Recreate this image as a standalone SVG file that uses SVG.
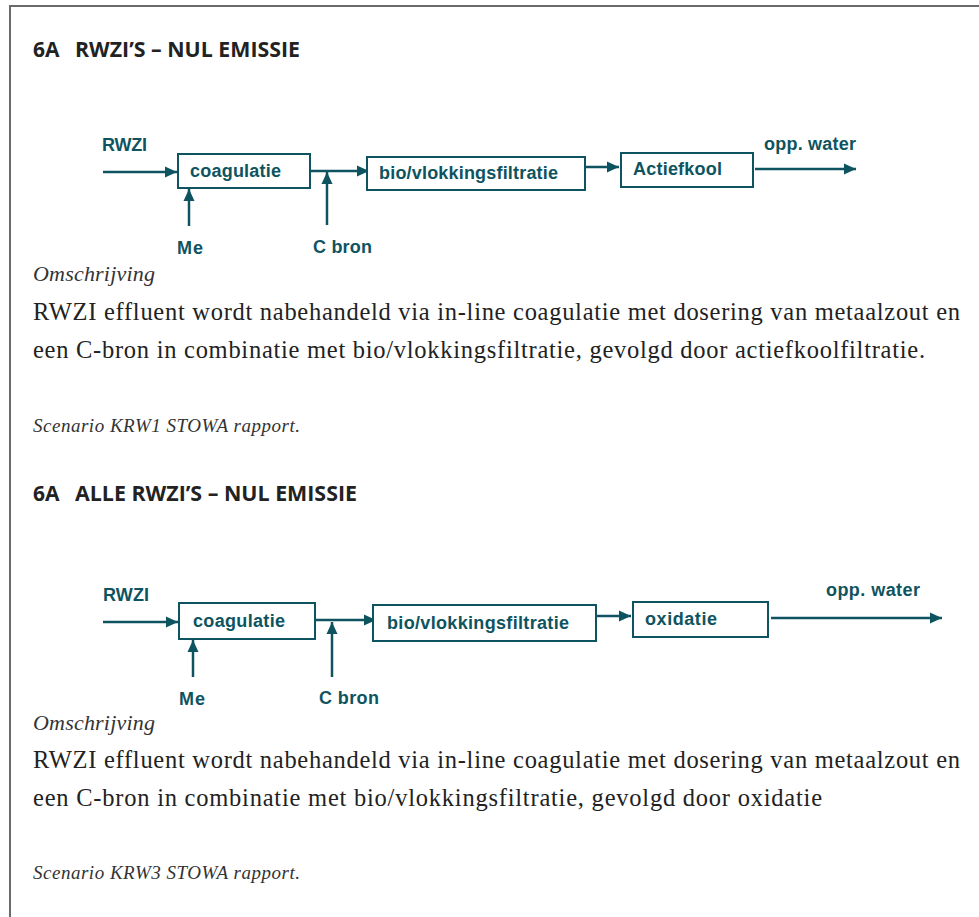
<svg xmlns="http://www.w3.org/2000/svg" width="979" height="917" viewBox="0 0 979 917">
  <style>
    .frame { fill: none; stroke: #6a6a6a; stroke-width: 2; }
    .head { font-family: "Open Sans", "DejaVu Sans", sans-serif; font-weight: 700; font-size: 21px; fill: #222; }
    .lbl { font-family: "Liberation Sans", Arial, sans-serif; font-weight: 700; font-size: 18px; fill: #0e5460; }
    .box { fill: #fff; stroke: #0e5460; stroke-width: 2; }
    .flow { stroke: #0e5460; stroke-width: 2.5; fill: none; marker-end: url(#arr); }
    .ital { font-family: "Liberation Serif", "Times New Roman", serif; font-style: italic; fill: #333; }
    .body { font-family: "Liberation Serif", "Times New Roman", serif; font-size: 24.5px; fill: #222; }
  </style>
  <defs>
    <marker id="arr" markerUnits="userSpaceOnUse" markerWidth="13" markerHeight="12" refX="12" refY="6" orient="auto">
      <path d="M0,0.5 L12,6 L0,11.5 Z" fill="#0e5460"/>
    </marker>
  </defs>

  <rect width="979" height="917" fill="#fff"/>
  <!-- page frame -->
  <path class="frame" d="M10,917 L10,6 L979,6"/>

  <!-- ===== scenario 1 ===== -->
  <text class="head" y="57"><tspan x="33">6A</tspan><tspan x="75" textLength="225" lengthAdjust="spacingAndGlyphs">RWZI’S – NUL EMISSIE</tspan></text>

  <g id="connectors-1">
    <line class="flow" x1="103" y1="172" x2="177" y2="172"/>
    <line class="flow" x1="189" y1="226" x2="189" y2="189"/>
    <line class="flow" x1="308" y1="171" x2="369" y2="171"/>
    <line class="flow" x1="327" y1="225" x2="327" y2="172"/>
    <line class="flow" x1="582" y1="167" x2="619" y2="167"/>
    <line class="flow" x1="755" y1="169" x2="856" y2="169"/>
  </g>
  <g id="rwzi-1"><text class="lbl" x="102" y="151" textLength="45">RWZI</text></g>
  <g id="coagulatie-1">
    <rect class="box" x="178" y="154" width="132" height="34"/>
    <text class="lbl" x="190" y="177" textLength="91">coagulatie</text>
  </g>
  <g id="bio-1">
    <rect class="box" x="367" y="157" width="218" height="33"/>
    <text class="lbl" x="379" y="179" textLength="179">bio/vlokkingsfiltratie</text>
  </g>
  <g id="actiefkool-1">
    <rect class="box" x="621" y="153" width="132" height="34"/>
    <text class="lbl" x="633" y="175" textLength="89">Actiefkool</text>
  </g>
  <g id="me-1"><text class="lbl" x="177" y="254" textLength="26">Me</text></g>
  <g id="cbron-1"><text class="lbl" x="313" y="253" textLength="59">C bron</text></g>
  <g id="water-1"><text class="lbl" x="764" y="150" textLength="92">opp. water</text></g>

  <text class="ital" x="33" y="281" font-size="22" textLength="122">Omschrijving</text>
  <text class="body" x="33" y="320" textLength="927">RWZI effluent wordt nabehandeld via in-line coagulatie met dosering van metaalzout en</text>
  <text class="body" x="33" y="358" textLength="892">een C-bron in combinatie met bio/vlokkingsfiltratie, gevolgd door actiefkoolfiltratie.</text>
  <text class="ital" x="33" y="432" font-size="19" textLength="267">Scenario KRW1 STOWA rapport.</text>

  <!-- ===== scenario 2 ===== -->
  <text class="head" y="501"><tspan x="33">6A</tspan><tspan x="75" textLength="282" lengthAdjust="spacingAndGlyphs">ALLE RWZI’S – NUL EMISSIE</tspan></text>

  <g id="connectors-2">
    <line class="flow" x1="103" y1="622" x2="178" y2="622"/>
    <line class="flow" x1="193" y1="677" x2="193" y2="640"/>
    <line class="flow" x1="312" y1="620" x2="376" y2="620"/>
    <line class="flow" x1="332" y1="677" x2="332" y2="622"/>
    <line class="flow" x1="593" y1="616" x2="631" y2="616"/>
    <line class="flow" x1="771" y1="618" x2="942" y2="618"/>
  </g>
  <g id="rwzi-2"><text class="lbl" x="103" y="601" textLength="46">RWZI</text></g>
  <g id="coagulatie-2">
    <rect class="box" x="179" y="603" width="136" height="36"/>
    <text class="lbl" x="193" y="627" textLength="92">coagulatie</text>
  </g>
  <g id="bio-2">
    <rect class="box" x="373" y="605" width="223" height="36"/>
    <text class="lbl" x="387" y="629" textLength="182">bio/vlokkingsfiltratie</text>
  </g>
  <g id="oxidatie-2">
    <rect class="box" x="633" y="602" width="135" height="35"/>
    <text class="lbl" x="645" y="625" textLength="72">oxidatie</text>
  </g>
  <g id="me-2"><text class="lbl" x="179" y="705" textLength="26">Me</text></g>
  <g id="cbron-2"><text class="lbl" x="319" y="704" textLength="60">C bron</text></g>
  <g id="water-2"><text class="lbl" x="826" y="596" textLength="94">opp. water</text></g>

  <text class="ital" x="33" y="730" font-size="22" textLength="122">Omschrijving</text>
  <text class="body" x="33" y="768" textLength="927">RWZI effluent wordt nabehandeld via in-line coagulatie met dosering van metaalzout en</text>
  <text class="body" x="33" y="806" textLength="789">een C-bron in combinatie met bio/vlokkingsfiltratie, gevolgd door oxidatie</text>
  <text class="ital" x="33" y="879" font-size="19" textLength="267">Scenario KRW3 STOWA rapport.</text>
</svg>
